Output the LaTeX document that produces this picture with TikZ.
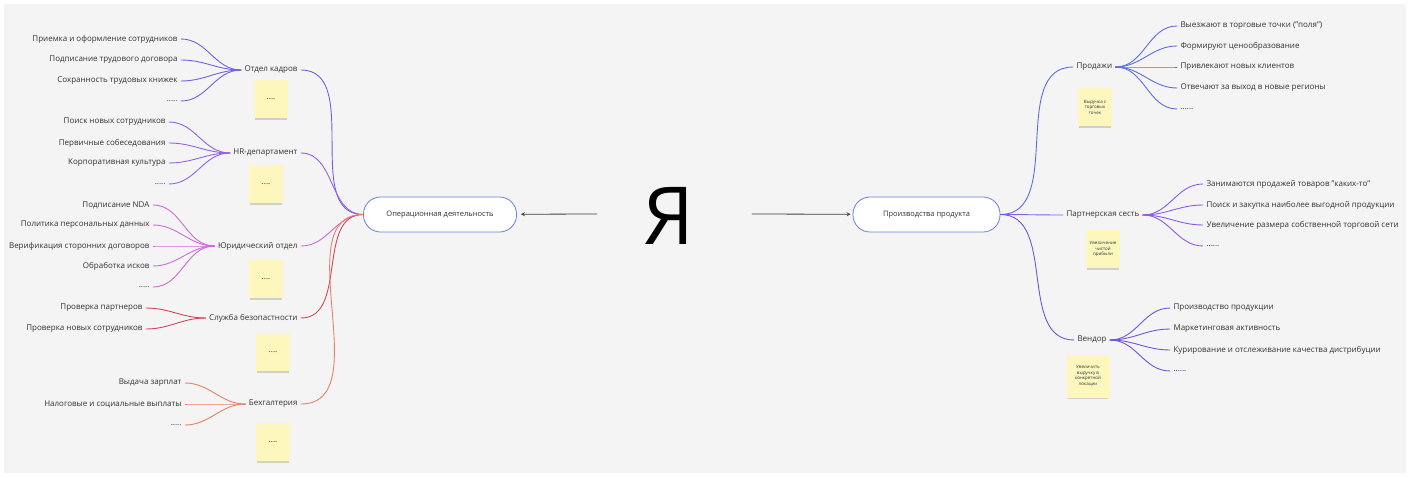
\documentclass[tikz,border=0pt]{standalone}
\usepackage{fontspec}
\setmainfont{Open Sans}
\usetikzlibrary{shadows}
\definecolor{panel}{HTML}{F4F4F4}
\definecolor{ink}{HTML}{333333}
\definecolor{pillblue}{HTML}{6B80E2}
\definecolor{stickyyellow}{HTML}{FDF7BE}
\definecolor{cKadry}{HTML}{7460E4}
\definecolor{cHr}{HTML}{9462E8}
\definecolor{cYur}{HTML}{D06AD8}
\definecolor{cSb}{HTML}{D8435F}
\definecolor{cBuh}{HTML}{E8806C}
\definecolor{cProd}{HTML}{5C6DE2}
\definecolor{cPart}{HTML}{8A5CE8}
\definecolor{cVend}{HTML}{6E56DA}
\newcommand{\fivedots}{.....}
\newcommand{\sixdots}{......}
\newcommand{\fourdots}{....}
\begin{document}
\begin{tikzpicture}[x=1pt,y=-1pt,>=stealth,font=\fontsize{8}{9.5}\selectfont,text=ink,line cap=round,line join=round,
  pill/.style={draw=pillblue,fill=white,rounded corners=17pt,minimum width=153pt,minimum height=35pt,line width=0.8pt,font=\fontsize{7.5}{9}\selectfont},
  sticky/.style={fill=stickyyellow,minimum width=34pt,minimum height=38pt,align=center,font=\fontsize{4.5}{5.5}\selectfont,drop shadow={shadow xshift=0pt,shadow yshift=-3.5pt,shadow scale=0.92,opacity=.22,fill=black!70}},
  branch/.style={line width=0.9pt}]
\fill[white] (0,0) rectangle (1412,478);
\useasboundingbox (0,0) rectangle (1412,478);
\fill[panel] (4,4) rectangle (1406,473);
\node[font=\fontsize{80}{80}\selectfont,text=black] (ya) at (669,216) {Я};
\node[pill] (op) at (440,214.5) {Операционная деятельность};
\node[pill,minimum width=147pt] (prod) at (926.5,214.5) {Производства продукта};
\path (597,214) coordinate (ya-l) (752,214) coordinate (ya-r);
\draw[->,black!75,line width=0.8pt,shorten >=4pt] (ya-l) -- (op);
\draw[->,black!75,line width=0.8pt,shorten >=2pt] (ya-r) -- (prod);
\foreach \n/\t/\y/\c in {kadry/Отдел кадров/70/cKadry,hr/HR-департамент/153/cHr,yur/Юридический отдел/246/cYur,sb/Служба безопастности/318/cSb,buh/Бехгалтерия/404/cBuh}{
  \node[anchor=east] (\n) at (301,\y) {\t};
  \draw[branch,\c] (\n.east) to[out=0,in=180] (op.west);
}
\foreach \n/\t/\x/\y/\p/\c in {k1/Приемка и оформление сотрудников/181/39/kadry/cKadry,k2/Подписание трудового договора/181/60/kadry/cKadry,k3/Сохранность трудовых книжек/181/81/kadry/cKadry,k4/\fivedots/181/101/kadry/cKadry,
  h1/Поиск новых сотрудников/169/122/hr/cHr,h2/Первичные собеседования/169/143/hr/cHr,h3/Корпоративная культура/169/163/hr/cHr,h4/\fivedots/169/184/hr/cHr,
  y1/Подписание NDA/153/205/yur/cYur,y2/Политика персональных данных/153/225/yur/cYur,y3/Верификация сторонних договоров/153/246/yur/cYur,y4/Обработка исков/153/266/yur/cYur,y5/\fivedots/153/287/yur/cYur,
  b1/Проверка партнеров/146/308/sb/cSb,b2/Проверка новых сотрудников/146/329/sb/cSb,
  z1/Выдача зарплат/185/383/buh/cBuh,z2/Налоговые и социальные выплаты/185/404/buh/cBuh,z3/\fivedots/185/425/buh/cBuh}{
  \node[anchor=east] (\n) at (\x,\y) {\t};
  \draw[branch,\c] (\p.west) to[out=180,in=0] (\n.east);
}
\foreach \n/\t/\x/\y/\c in {pr/Продажи/1073/67/cProd,ps/Партнерская сесть/1063/215/cPart,vd/Вендор/1074/340/cVend}{
  \node[anchor=west] (\n) at (\x,\y) {\t};
  \draw[branch,\c] (prod.east) to[out=0,in=180] (\n.west);
}
\foreach \n/\t/\x/\y/\p/\c in {p1/Выезжают в торговые точки ("поля")/1177/26/pr/cProd,p2/Формируют ценообразование/1177/46/pr/cProd,p3/Привлекают новых клиентов/1177/67/pr/cProd,p4/Отвечают за выход в новые регионы/1177/88/pr/cProd,p5/\sixdots/1177/109/pr/cProd,
  q1/Занимаются продажей товаров "каких-то"/1203/184/ps/cPart,q2/Поиск и закупка наиболее выгодной продукции/1203/205/ps/cPart,q3/Увеличение размера собственной торговой сети/1203/225/ps/cPart,q4/\sixdots/1203/246/ps/cPart,
  v1/Производство продукции/1170/308/vd/cVend,v2/Маркетинговая активность/1170/329/vd/cVend,v3/Курирование и отслеживание качества дистрибуции/1170/350/vd/cVend,v4/\sixdots/1170/371/vd/cVend}{
  \node[anchor=west] (\n) at (\x,\y) {\t};
  \draw[branch,\c] (\p.east) to[out=0,in=180] (\n.west);
}
\foreach \n/\x/\y in {s1/271/99,s2/266/184,s3/266/279,s4/273/352,s5/273/442}
  \node[sticky,font=\fontsize{8}{9}\selectfont] (\n) at (\x,\y) {\fourdots};
\node[sticky] (r1) at (1095,107) {Выручка с\\торговых\\точек};
\node[sticky] (r2) at (1103,249) {Увеличение\\чистой\\прибыли};
\node[sticky,minimum width=43pt,minimum height=43pt] (r3) at (1088,376) {Увеличить\\выручку в\\конкретной\\локации};
\end{tikzpicture}
\end{document}
